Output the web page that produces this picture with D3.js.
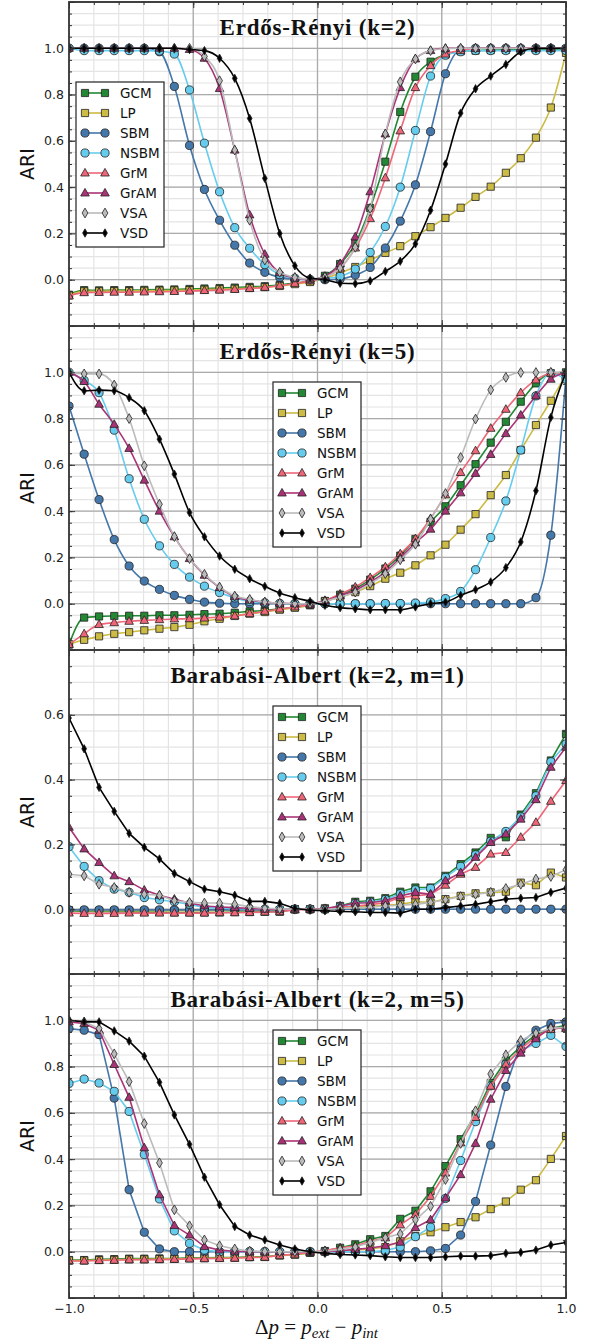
<!DOCTYPE html>
<html>
<head>
<meta charset="utf-8">
<script src="https://cdn.jsdelivr.net/npm/d3@7"></script>
<style>
  body { margin: 0; background: #fff; }
</style>
</head>
<body>
<svg id="chart" width="590" height="1344"></svg>
<script>
// x positions of the plotted points (every 3rd sample of linspace(-1, 1, 100))
const dp = [-1.000, -0.939, -0.879, -0.818, -0.758, -0.697, -0.636, -0.576, -0.515, -0.455, -0.394, -0.333,
            -0.273, -0.212, -0.152, -0.091, -0.030, 0.030, 0.091, 0.152, 0.212, 0.273, 0.333, 0.394,
            0.455, 0.515, 0.576, 0.636, 0.697, 0.758, 0.818, 0.879, 0.939, 1.000];

const methods = ["GCM", "LP", "SBM", "NSBM", "GrM", "GrAM", "VSA", "VSD"];
const colors  = ["#228833", "#ccbb44", "#4477aa", "#66ccee", "#ee6677", "#aa3377", "#bbbbbb", "#000000"];
const shapes  = ["square", "square", "circle", "circle", "triangle", "triangle", "diamond", "smalldiamond"];

const titles = ["Erdős-Rényi (k=2)", "Erdős-Rényi (k=5)", "Barabási-Albert (k=2, m=1)", "Barabási-Albert (k=2, m=5)"];
const yMaxes = [1.2, 1.2, 0.8, 1.2];
const yTicksFull = [0, 0.2, 0.4, 0.6, 0.8, 1.0];
const yTicksBA1 = [0, 0.2, 0.4, 0.6];
const xTicks = [-1, -0.5, 0, 0.5, 1];
const xTickLabels = ["\u22121.0", "\u22120.5", "0.0", "0.5", "1.0"];

// ARI per method, rows in the order of `methods`
const er2 = [
  [-0.065,-0.045,-0.046,-0.045,-0.045,-0.044,-0.043,-0.042,-0.040,-0.038,-0.036,-0.034,-0.031,-0.028,-0.023,-0.014,-0.007,0.017,0.068,0.156,0.310,0.510,0.725,0.877,0.942,0.973,0.987,0.990,0.992,0.993,0.994,0.995,0.996,0.997],
  [-0.068,-0.050,-0.050,-0.049,-0.049,-0.048,-0.047,-0.046,-0.045,-0.043,-0.041,-0.039,-0.036,-0.032,-0.027,-0.019,-0.010,0.005,0.030,0.055,0.084,0.116,0.145,0.188,0.227,0.267,0.311,0.358,0.402,0.462,0.525,0.614,0.744,0.980],
  [1,1,1,1,1,1,0.985,0.835,0.580,0.390,0.257,0.149,0.072,0.032,0.010,0.003,0.000,0.000,0.003,0.020,0.053,0.137,0.253,0.410,0.640,0.890,0.994,1,1,1,1,1,1,1],
  [1,0.990,0.990,0.990,0.990,0.990,0.988,0.975,0.820,0.590,0.380,0.225,0.136,0.065,0.022,0.006,0.000,0.005,0.015,0.046,0.118,0.230,0.400,0.645,0.880,0.970,0.985,0.990,0.990,0.990,0.990,0.990,0.990,0.990],
  [-0.070,-0.056,-0.055,-0.054,-0.054,-0.053,-0.052,-0.051,-0.049,-0.047,-0.045,-0.042,-0.038,-0.033,-0.026,-0.016,-0.005,0.012,0.050,0.137,0.264,0.440,0.643,0.830,0.925,0.975,0.990,1,1,1,1,1,1,1],
  [1,1,1,1,1,1,1,1,0.995,0.957,0.826,0.560,0.280,0.110,0.030,0.008,0.002,0.015,0.070,0.185,0.380,0.630,0.830,0.954,0.990,1,1,1,1,1,1,1,1,1],
  [1,1,1,1,1,1,1,1,1,0.965,0.860,0.560,0.257,0.085,0.032,0.010,0.003,0.012,0.050,0.140,0.308,0.630,0.855,0.954,0.990,0.998,1,1,1,1,1,1,1,1],
  [1,1,1,1,1,1,1,1,0.995,0.990,0.957,0.870,0.697,0.438,0.200,0.060,0.007,0.000,-0.015,-0.017,-0.005,0.036,0.080,0.155,0.300,0.500,0.720,0.825,0.880,0.930,0.985,1,1,1]
];

const er5 = [
  [-0.176,-0.060,-0.055,-0.053,-0.052,-0.052,-0.050,-0.050,-0.048,-0.045,-0.043,-0.039,-0.033,-0.029,-0.022,-0.016,-0.007,0.012,0.039,0.065,0.104,0.152,0.208,0.280,0.354,0.421,0.512,0.603,0.696,0.786,0.873,0.952,0.996,1.000],
  [-0.176,-0.156,-0.141,-0.130,-0.123,-0.115,-0.108,-0.101,-0.091,-0.076,-0.065,-0.053,-0.043,-0.036,-0.026,-0.017,-0.005,0.010,0.029,0.050,0.076,0.108,0.134,0.166,0.209,0.255,0.320,0.387,0.469,0.556,0.664,0.772,0.877,0.990],
  [0.854,0.646,0.450,0.277,0.163,0.098,0.062,0.036,0.019,0.007,0.002,0,0,0,0,0,0,0,0,0,0,0,0,0,0,0,0,0,0,0,0,0.026,0.296,0.980],
  [1,0.965,0.912,0.750,0.540,0.365,0.250,0.170,0.115,0.076,0.048,0.025,0.010,0.004,0.001,0,0,0,0,0,0,0.001,0.001,0.003,0.007,0.022,0.053,0.147,0.286,0.444,0.664,0.898,0.996,0.970],
  [-0.176,-0.130,-0.090,-0.082,-0.076,-0.072,-0.069,-0.066,-0.065,-0.062,-0.058,-0.053,-0.043,-0.033,-0.023,-0.014,-0.004,0.014,0.042,0.072,0.113,0.159,0.216,0.281,0.368,0.470,0.567,0.661,0.758,0.840,0.912,0.967,0.996,1.000],
  [1,0.960,0.862,0.775,0.671,0.534,0.400,0.289,0.195,0.123,0.070,0.030,0.015,0.007,0.002,0,0,0.012,0.035,0.058,0.094,0.137,0.198,0.263,0.322,0.400,0.479,0.563,0.645,0.735,0.815,0.898,0.970,1.000],
  [1,0.993,0.993,0.945,0.800,0.596,0.430,0.290,0.195,0.127,0.072,0.033,0.019,0.007,0.002,0,0,0.010,0.029,0.050,0.087,0.130,0.190,0.257,0.365,0.476,0.632,0.798,0.924,0.978,0.999,0.999,1,1],
  [1,0.920,0.923,0.920,0.890,0.834,0.711,0.560,0.394,0.289,0.206,0.149,0.108,0.075,0.046,0.026,0.010,-0.007,-0.017,-0.022,-0.026,-0.026,-0.026,-0.014,0.000,0.007,0.036,0.061,0.094,0.156,0.267,0.488,0.805,1.000]
];

const ba1 = [
  [-0.005,-0.007,-0.007,-0.008,-0.008,-0.009,-0.009,-0.010,-0.010,-0.010,-0.010,-0.009,-0.009,-0.008,-0.008,0.000,0.000,0.000,0.010,0.023,0.026,0.034,0.054,0.067,0.067,0.103,0.139,0.175,0.220,0.222,0.292,0.358,0.459,0.541],
  [-0.003,-0.005,-0.005,-0.005,-0.005,-0.005,-0.005,-0.005,-0.005,-0.005,-0.005,-0.004,-0.004,-0.004,-0.003,0.000,0.000,0.003,0.005,0.008,0.010,0.012,0.015,0.023,0.021,0.031,0.041,0.049,0.052,0.054,0.082,0.074,0.113,0.098],
  [-0.002,-0.002,-0.002,-0.002,-0.002,-0.002,-0.002,-0.002,-0.002,-0.002,-0.002,-0.002,-0.002,-0.002,-0.002,0,0,0,0,0,0,0,0,0,0,0,0,0,0,0,0,0,0,0],
  [0.193,0.132,0.088,0.062,0.052,0.036,0.029,0.023,0.015,0.005,0.003,0.002,0.001,0,0,0,0,0,0.008,0.018,0.022,0.030,0.048,0.060,0.064,0.098,0.132,0.168,0.210,0.240,0.285,0.350,0.455,0.510],
  [-0.012,-0.013,-0.013,-0.013,-0.012,-0.012,-0.012,-0.012,-0.012,-0.012,-0.011,-0.011,-0.010,-0.009,-0.008,-0.002,0.000,0.002,0.006,0.010,0.014,0.020,0.036,0.041,0.046,0.074,0.108,0.129,0.170,0.175,0.222,0.268,0.333,0.397],
  [0.253,0.186,0.144,0.103,0.085,0.059,0.043,0.031,0.019,0.010,0.007,0.005,0.002,0,0,0,0,0.002,0.010,0.019,0.020,0.026,0.041,0.052,0.046,0.088,0.113,0.160,0.206,0.232,0.278,0.338,0.438,0.500],
  [0.108,0.103,0.077,0.067,0.052,0.046,0.043,0.026,0.021,0.019,0.019,0.015,0.008,0.003,0.001,0,0,0,0.002,0.004,0.006,0.010,0.012,0.015,0.021,0.029,0.039,0.046,0.052,0.064,0.077,0.093,0.101,0.122],
  [0.590,0.495,0.376,0.302,0.234,0.191,0.155,0.110,0.085,0.062,0.054,0.043,0.024,0.024,0.018,0.002,-0.003,-0.005,-0.007,-0.008,-0.010,-0.010,-0.012,0.000,0.000,0.005,0.010,0.015,0.023,0.031,0.034,0.036,0.052,0.065]
];

const ba5 = [
  [-0.036,-0.036,-0.033,-0.032,-0.030,-0.030,-0.029,-0.029,-0.026,-0.026,-0.025,-0.025,-0.022,-0.022,-0.014,-0.012,-0.004,0.003,0.017,0.032,0.054,0.068,0.142,0.177,0.261,0.370,0.486,0.594,0.729,0.826,0.887,0.938,0.964,0.978],
  [-0.038,-0.038,-0.036,-0.035,-0.033,-0.033,-0.032,-0.031,-0.029,-0.028,-0.027,-0.026,-0.024,-0.023,-0.017,-0.013,-0.005,0.000,0.003,0.006,0.012,0.020,0.045,0.068,0.084,0.106,0.128,0.149,0.184,0.217,0.268,0.309,0.401,0.500],
  [0.964,0.957,0.938,0.664,0.268,0.084,0.012,0,0,0,0,0,0,0,0,0,0,0,0,0,0,0,0,0,0.004,0.014,0.072,0.217,0.461,0.714,0.900,0.957,0.986,0.993],
  [0.727,0.746,0.729,0.693,0.606,0.420,0.228,0.090,0.036,0.007,0,0,0,0,0,0,0,0,0,0,0,0.005,0.020,0.065,0.106,0.230,0.394,0.562,0.717,0.810,0.870,0.900,0.935,0.887],
  [-0.040,-0.040,-0.038,-0.037,-0.035,-0.035,-0.034,-0.033,-0.031,-0.030,-0.029,-0.028,-0.025,-0.024,-0.016,-0.011,-0.003,0.005,0.017,0.025,0.045,0.060,0.116,0.160,0.239,0.340,0.470,0.580,0.715,0.810,0.875,0.930,0.960,0.970],
  [0.993,0.986,0.957,0.809,0.667,0.449,0.246,0.113,0.072,0.022,0.007,0.002,0,0,0,0,0,0,0.004,0.010,0.016,0.026,0.041,0.104,0.138,0.232,0.333,0.468,0.659,0.783,0.858,0.920,0.971,0.964],
  [1,0.993,0.964,0.855,0.735,0.554,0.384,0.181,0.112,0.051,0.026,0.012,0.003,0.001,0,0,0,0.002,0.010,0.020,0.040,0.060,0.077,0.138,0.196,0.312,0.468,0.609,0.768,0.851,0.913,0.945,0.965,0.970],
  [1,0.993,0.993,0.954,0.910,0.845,0.732,0.591,0.464,0.322,0.203,0.109,0.072,0.051,0.029,0.012,0.000,-0.007,-0.012,-0.014,-0.017,-0.022,-0.025,-0.025,-0.025,-0.022,-0.019,-0.019,-0.017,-0.007,-0.003,0.007,0.029,0.040]
];

const panelData = [er2, er5, ba1, ba5];
const panelYTicks = [yTicksFull, yTicksFull, yTicksBA1, yTicksFull];

// layout
const plotLeft = 69, plotRight = 566, firstTop = 2, panelH = 324;
const sansFont = "DejaVu Sans, Bitstream Vera Sans, sans-serif";
const serifFont = "Liberation Serif, Times New Roman, serif";

const svg = d3.select("#chart");
const x = d3.scaleLinear().domain([-1, 1]).range([plotLeft, plotRight]);

const markerPath = {
  square: "M-3.6,-3.6h7.2v7.2h-7.2z",
  circle: "M-4.1,0a4.1,4.1 0 1,0 8.2,0a4.1,4.1 0 1,0 -8.2,0z",
  triangle: "M0,-4.6L4.3,3L-4.3,3Z",
  diamond: "M0,-4.9L2.9,0L0,4.9L-2.9,0Z",
  smalldiamond: "M0,-4.2L2.4,0L0,4.2L-2.4,0Z"
};

const minorX = d3.range(-10, 11).map(i => i / 10);

panelData.forEach((rows, k) => {
  const top = firstTop + k * panelH;
  const bottom = top + panelH;
  const yMax = yMaxes[k];
  const y = d3.scaleLinear().domain([-0.2, yMax]).range([bottom, top]);
  const g = svg.append("g");

  const minorY = d3.range(-4, Math.round(yMax / 0.05) + 1).map(i => i * 0.05);
  const majorY = d3.range(-1, Math.round(yMax / 0.2) + 1).map(i => i * 0.2);

  // grids
  const grid = g.append("g");
  grid.selectAll(".mx").data(minorX).join("line")
    .attr("x1", d => x(d)).attr("x2", d => x(d)).attr("y1", top).attr("y2", bottom)
    .attr("stroke", "#e4e4e4").attr("stroke-width", 1.2);
  grid.selectAll(".my").data(minorY).join("line")
    .attr("x1", plotLeft).attr("x2", plotRight).attr("y1", d => y(d)).attr("y2", d => y(d))
    .attr("stroke", "#e4e4e4").attr("stroke-width", 1.2);
  grid.selectAll(".Mx").data([-0.5, 0, 0.5]).join("line")
    .attr("x1", d => x(d)).attr("x2", d => x(d)).attr("y1", top).attr("y2", bottom)
    .attr("stroke", "#ababab").attr("stroke-width", 1.3);
  grid.selectAll(".My").data(majorY).join("line")
    .attr("x1", plotLeft).attr("x2", plotRight).attr("y1", d => y(d)).attr("y2", d => y(d))
    .attr("stroke", "#ababab").attr("stroke-width", 1.3);

  // clip
  const clipId = "clip" + k;
  svg.append("clipPath").attr("id", clipId)
    .append("rect").attr("x", plotLeft).attr("y", top)
    .attr("width", plotRight - plotLeft).attr("height", panelH);

  const plot = g.append("g").attr("clip-path", `url(#${clipId})`);
  const line = d3.line()
    .x((d, i) => x(dp[i]))
    .y(d => y(d))
    .curve(k < 2 ? d3.curveMonotoneX : d3.curveLinear);

  rows.forEach((vals, s) => {
    const sg = plot.append("g");
    sg.append("path").datum(vals)
      .attr("d", line)
      .attr("fill", "none")
      .attr("stroke", colors[s])
      .attr("stroke-width", 1.6);
    sg.selectAll("path.m").data(vals).join("path")
      .attr("class", "m")
      .attr("d", markerPath[shapes[s]])
      .attr("transform", (d, i) => `translate(${x(dp[i])},${y(d)})`)
      .attr("fill", colors[s])
      .attr("stroke", "#222")
      .attr("stroke-width", 0.8);
  });

  // ticks
  const styleAxis = sel => {
    sel.select(".domain").remove();
    sel.selectAll(".tick line").attr("stroke", "#333").attr("stroke-width", 1);
    sel.selectAll(".tick text").attr("font-family", sansFont).attr("font-size", 12.5).attr("fill", "#222");
  };
  const yt = panelYTicks[k];
  g.append("g").attr("transform", `translate(${plotLeft},0)`)
    .call(d3.axisLeft(y).tickValues(majorY).tickSize(-6).tickPadding(5)
      .tickFormat(d => yt.some(t => Math.abs(t - d) < 1e-9) ? d3.format(".1f")(d) : ""))
    .call(styleAxis);
  g.append("g").attr("transform", `translate(${plotLeft},0)`)
    .call(d3.axisLeft(y).tickValues(minorY).tickSize(-3).tickFormat("")).call(styleAxis);
  g.append("g").attr("transform", `translate(${plotRight},0)`)
    .call(d3.axisRight(y).tickValues(majorY).tickSize(-6).tickFormat("")).call(styleAxis);
  g.append("g").attr("transform", `translate(${plotRight},0)`)
    .call(d3.axisRight(y).tickValues(minorY).tickSize(-3).tickFormat("")).call(styleAxis);
  g.append("g").attr("transform", `translate(0,${top})`)
    .call(d3.axisTop(x).tickValues(xTicks).tickSize(-6).tickFormat("")).call(styleAxis);
  g.append("g").attr("transform", `translate(0,${top})`)
    .call(d3.axisTop(x).tickValues(minorX).tickSize(-3).tickFormat("")).call(styleAxis);
  const last = k === panelData.length - 1;
  g.append("g").attr("transform", `translate(0,${bottom})`)
    .call(d3.axisBottom(x).tickValues(xTicks).tickSize(-6).tickPadding(6)
      .tickFormat((d, i) => last ? xTickLabels[i] : ""))
    .call(styleAxis);
  g.append("g").attr("transform", `translate(0,${bottom})`)
    .call(d3.axisBottom(x).tickValues(minorX).tickSize(-3).tickFormat("")).call(styleAxis);

  // spines
  g.append("rect")
    .attr("x", plotLeft).attr("y", top)
    .attr("width", plotRight - plotLeft).attr("height", panelH)
    .attr("fill", "none").attr("stroke", "#333").attr("stroke-width", 1.8);

  // y label
  g.append("text")
    .attr("transform", `translate(27,${(top + bottom) / 2}) rotate(-90)`)
    .attr("text-anchor", "middle")
    .attr("dominant-baseline", "central")
    .attr("font-family", sansFont)
    .attr("font-size", 19)
    .attr("fill", "#111")
    .text("ARI");

  // title
  g.append("text")
    .attr("x", (plotLeft + plotRight) / 2)
    .attr("y", top + 33)
    .attr("text-anchor", "middle")
    .attr("font-family", serifFont)
    .attr("font-weight", "bold")
    .attr("font-size", 23)
    .attr("letter-spacing", 0.8)
    .attr("fill", "#111")
    .text(titles[k]);

  // legend
  const lx = k === 0 ? 76 : 273;
  const ly = k === 0 ? 82 : top + 56;
  const leg = g.append("g").attr("transform", `translate(${lx},${ly})`);
  leg.append("rect").attr("width", 88).attr("height", 165)
    .attr("fill", "#fff").attr("stroke", "#222").attr("stroke-width", 1.2);
  methods.forEach((m, s) => {
    const row = leg.append("g").attr("transform", `translate(0,${11 + s * 20})`);
    row.append("line").attr("x1", 9).attr("x2", 29)
      .attr("stroke", colors[s]).attr("stroke-width", 1.6);
    [9, 29].forEach(px => {
      row.append("path").attr("d", markerPath[shapes[s]])
        .attr("transform", `translate(${px},0)`)
        .attr("fill", colors[s]).attr("stroke", "#222").attr("stroke-width", 0.8);
    });
    row.append("text").attr("x", 44).attr("y", 0)
      .attr("dominant-baseline", "central")
      .attr("font-family", sansFont).attr("font-size", 13.5).attr("fill", "#111")
      .text(m);
  });
});

// x label
const xl = svg.append("text")
  .attr("x", (plotLeft + plotRight) / 2 - 1)
  .attr("y", 1334)
  .attr("text-anchor", "middle")
  .attr("font-family", serifFont)
  .attr("font-size", 21)
  .attr("fill", "#111");
xl.append("tspan").text("\u0394");
xl.append("tspan").attr("font-style", "italic").text("p");
xl.append("tspan").text(" = ");
xl.append("tspan").attr("font-style", "italic").text("p");
xl.append("tspan").attr("font-style", "italic").attr("font-size", 15).attr("dy", 4).text("ext");
xl.append("tspan").attr("dy", -4).text(" \u2212 ");
xl.append("tspan").attr("font-style", "italic").text("p");
xl.append("tspan").attr("font-style", "italic").attr("font-size", 15).attr("dy", 4).text("int");
</script>
</body>
</html>
